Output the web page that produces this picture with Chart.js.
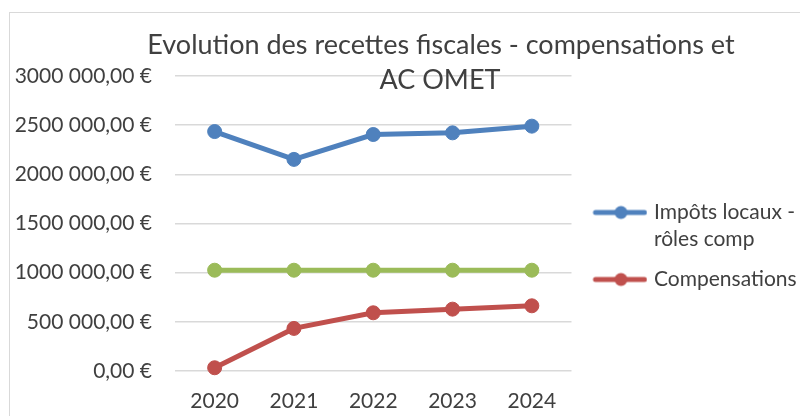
<!DOCTYPE html>
<html><head><meta charset="utf-8">
<script src="https://cdn.jsdelivr.net/npm/chart.js@4"></script>
<style>html,body{margin:0;padding:0;background:#fff}#wrap{width:800px;height:416px;position:relative}</style>
</head><body><div id="wrap"><canvas id="c" width="800" height="416"></canvas></div>
<script>
const categories = ['2020', '2021', '2022', '2023', '2024'];
const impotsLocaux = [2435000, 2152000, 2405000, 2422000, 2490000];
const acOmet = [1025000, 1025000, 1025000, 1025000, 1025000];
const compensations = [33000, 433000, 592000, 629000, 663000];
const impotsLabel = ['Impôts locaux -', 'rôles comp'];
const acOmetLabel = 'AC OMET';
const compensationsLabel = 'Compensations';
const titleLines = ['Evolution des recettes fiscales - compensations et', 'AC OMET'];
const yMin = 0, yMax = 3000000, yStep = 500000;

const TEXT = '#404040';
const FONT = 'Lato';
const LEGEND_FONT = '21px ' + FONT;

function fmtEuro(v) {
  v = Math.round(v);
  let s;
  if (v >= 1000) {
    s = Math.floor(v / 1000) + '\u00a0' + String(v % 1000).padStart(3, '0');
  } else s = String(v);
  return s + ',00 \u20ac';
}

function makeMarker(color) {
  const c = document.createElement('canvas');
  c.width = 67; c.height = 16;
  const g = c.getContext('2d');
  g.strokeStyle = color; g.lineWidth = 5; g.lineCap = 'round';
  g.beginPath(); g.moveTo(15, 8); g.lineTo(64, 8); g.stroke();
  g.fillStyle = color;
  g.beginPath(); g.arc(40.5, 8, 6.5, 0, Math.PI * 2); g.fill();
  return c;
}

const frame = {
  id: 'frame',
  beforeLayout(chart) { chart.ctx.font = LEGEND_FONT; },
  afterLayout(chart) {
    // let the legend text run to the canvas edge instead of being clipped
    if (chart.legend) chart.legend.right = chart.width;
  },
  beforeDraw(chart) {
    const ctx = chart.ctx;
    ctx.save();
    ctx.fillStyle = '#fff';
    ctx.fillRect(0, 0, chart.width, chart.height);
    ctx.strokeStyle = '#d9d9d9';
    ctx.lineWidth = 1;
    ctx.strokeRect(9.5, 12.5, 820, 430);
    ctx.restore();
  }
};

const overlayTitle = {
  id: 'overlayTitle',
  afterDraw(chart) {
    const ctx = chart.ctx;
    ctx.save();
    ctx.fillStyle = TEXT;
    ctx.font = '27px ' + FONT;
    ctx.textAlign = 'center';
    ctx.textBaseline = 'alphabetic';
    ctx.fillText(titleLines[0], 441, 54);
    ctx.fillText(titleLines[1], 440, 89);
    ctx.restore();
  }
};

const mk = (label, data, color) => ({
  label, data,
  borderColor: color, backgroundColor: color,
  pointBackgroundColor: color, pointBorderColor: color,
  borderWidth: 5, pointRadius: 7, pointBorderWidth: 1,
  tension: 0, clip: false
});

const chart = new Chart(document.getElementById('c'), {
  type: 'line',
  data: {
    labels: categories,
    datasets: [
      mk(impotsLabel, impotsLocaux, '#4F81BD'),
      mk(acOmetLabel, acOmet, '#9BBB59'),
      mk(compensationsLabel, compensations, '#C0504D')
    ]
  },
  options: {
    responsive: false,
    animation: false,
    layout: { padding: { left: 10, right: 0, top: 76, bottom: 0 } },
    plugins: {
      tooltip: { enabled: false },
      title: { display: false },
      legend: {
        position: 'right', align: 'center',
        labels: {
          usePointStyle: true, pointStyleWidth: 59, padding: 13,
          color: TEXT,
          font: { family: FONT, size: 21, lineHeight: '27px' },
          generateLabels(chart) {
            return chart.data.datasets.map((ds, i) => ({
              text: ds.label, datasetIndex: i,
              pointStyle: makeMarker(ds.borderColor),
              fillStyle: ds.borderColor, strokeStyle: ds.borderColor,
              lineWidth: 0, hidden: false, fontColor: TEXT
            })).filter(it => it.datasetIndex !== 1);
          }
        }
      }
    },
    scales: {
      x: {
        offset: true,
        grid: { display: false, drawTicks: false },
        border: { display: false },
        ticks: { color: TEXT, font: { family: FONT, size: 21 }, padding: 18 },
        afterFit(s) { s.height = 45; }
      },
      y: {
        min: yMin, max: yMax,
        grid: { color: '#d9d9d9', lineWidth: 1.5, drawTicks: false },
        border: { display: false },
        ticks: { stepSize: yStep, color: TEXT, font: { family: FONT, size: 21 }, padding: 23,
                 callback: v => fmtEuro(v) },
        afterFit(s) { s.width = 165; }
      }
    }
  },
  plugins: [frame, overlayTitle]
});

// make the plot area end where the reference's does (x = 571)
function fitRight() {
  for (let k = 0; k < 3; k++) {
    const diff = chart.chartArea.right - 571;
    if (Math.abs(diff) < 0.5) break;
    chart.options.layout.padding.right += diff;
    chart.update();
  }
}
fitRight();
if (document.fonts && document.fonts.ready) document.fonts.ready.then(fitRight);
</script>
</body></html>
